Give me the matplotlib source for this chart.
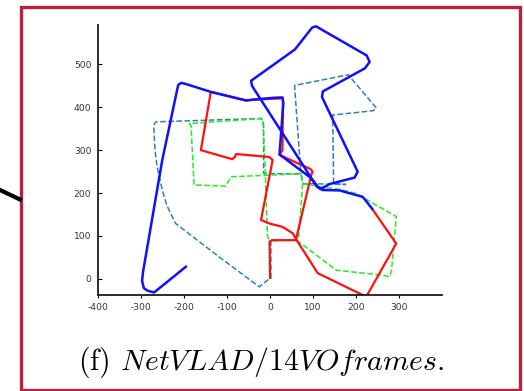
import numpy as np
import matplotlib.pyplot as plt
from matplotlib.patches import Rectangle
from matplotlib.lines import Line2D

plt.rcParams['axes.unicode_minus'] = False
plt.rcParams['mathtext.fontset'] = 'cm'

# trajectories (x, y), NaN marks a break in a dashed track
netvlad_x = [-196, -270, -285, -294, -298, -296, -251, -214, -207, -198, -138, -56, -37, 6, 29, 31, 22,
             94, 111, 119, 139, 197, 204, 121, 123, 221, 232, 225, 107, 98, 58, -44, -42, 98, 111, 122,
             162, 216, 238]
netvlad_y = [28, -32, -28, -22, -5, 15, 277, 452, 457, 455, 436, 416, 418, 422, 423, 410, 290,
             236, 214, 210, 221, 236, 250, 424, 437, 491, 506, 521, 589, 586, 535, 462, 450, 232, 214, 207,
             206, 191, 163]

ours_x = [0, -1, 4, 60, 96, 99, 94, 22, 29, 30, -37, -56, -138, -161, -88, -82, -79, -2, 6, -21, -2,
          29, 53, 62, 111, 224, 294, 240]
ours_y = [2, 86, 90, 90, 242, 250, 256, 289, 300, 421, 418, 416, 436, 300, 279, 284, 291, 284, 277, 137, 129,
          121, 106, 90, 13, -42, 82, 160]

gt_x = [2, -1, 62, 154, 255, 279, 283, 294, 240, 201, 160, 120, 76, 73, 6, -91, -103, -177, -184, -188,
        -17, -12, -9, -6, -1, np.nan, 76, 66]
gt_y = [0, 88, 90, 20, 9, 5, 20, 145, 176, 199, 209, 214, 222, 246, 242, 238, 216, 219, 358, 362,
        374, 277, 183, 100, 88, np.nan, 222, 90]

vo_x = [2, 2, -25, -120, -220, -240, -251, -263, -268, -271, -266, -21, -15, -15, 72, 76, 176, 148, 146,
        240, 248, 182, 57, 72]
vo_y = [90, 3, -19, 52, 129, 170, 207, 261, 300, 358, 366, 374, 360, 246, 244, 222, 220, 221, 382,
        392, 398, 476, 451, 244]

xticks = [-400, -300, -200, -100, 0, 100, 200, 300]
yticks = [0, 100, 200, 300, 400, 500]

fig = plt.figure(figsize=(5.24, 3.91), dpi=100)
ax = fig.add_axes([0.1876, 0.2455, 0.6555, 0.6905])

ax.plot(vo_x, vo_y, '--', color='#2f7fc0', lw=1.1, solid_joinstyle='round')
ax.plot(gt_x, gt_y, '--', color='#22ee22', lw=1.1)
ax.plot(ours_x, ours_y, '-', color='#ff1010', lw=1.6, solid_joinstyle='round')
ax.plot(netvlad_x, netvlad_y, '-', color='#1010ff', lw=1.8, solid_joinstyle='round')

ax.set_xlim(-400, 400)
ax.set_ylim(-38, 592)
ax.set_xticks(xticks)
ax.set_yticks(yticks)
for s in ['top', 'right']:
    ax.spines[s].set_visible(False)
for s in ['left', 'bottom']:
    ax.spines[s].set_linewidth(1.3)
    ax.spines[s].set_color('#1a1a1a')
ax.tick_params(axis='x', direction='out', length=2, pad=4, labelsize=6.6, labelcolor='#333333')
ax.tick_params(axis='y', direction='in', length=3, pad=5, labelsize=6.6, labelcolor='#333333')

# caption and frame
fig.text(0.498, 0.0537, r'(f) $NetVLAD/14VOframes$.', ha='center', va='baseline',
         fontsize=21.5, family='cmr10')
fig.patches.append(Rectangle((20.8 / 524, 1 - 390 / 391), (520.2 - 20.8) / 524, (390 - 7) / 391,
                             transform=fig.transFigure, fill=False, ec='#be1e3c', lw=2.4))
fig.lines.append(Line2D([0, 20 / 524], [1 - 190 / 391, 1 - 199.5 / 391],
                        transform=fig.transFigure, color='black', lw=3))

fig.savefig('out.png', dpi=100)
